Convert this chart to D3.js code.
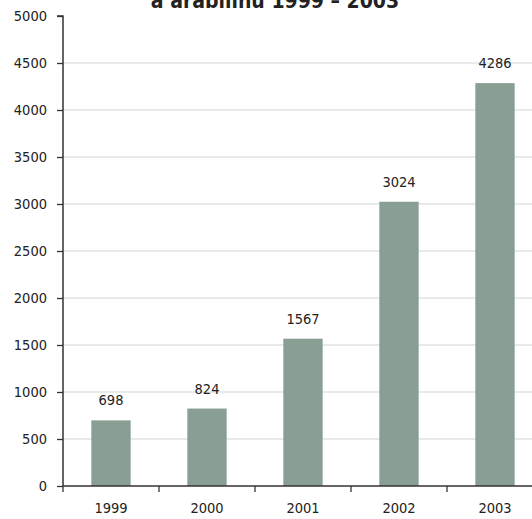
<!DOCTYPE html>
<html>
<head>
<meta charset="utf-8">
<script src="https://d3js.org/d3.v7.min.js"></script>
<style>
body { margin: 0; background: #fff; }
text { font-family: "DejaVu Sans Condensed", "Liberation Sans Narrow", sans-serif; }
</style>
</head>
<body>
<div id="chart"></div>
<script>
// chart data
const years = ["1999", "2000", "2001", "2002", "2003"];
const values = [698, 824, 1567, 3024, 4286];
const y_ticks = [0, 500, 1000, 1500, 2000, 2500, 3000, 3500, 4000, 4500, 5000];
const title_text = "á árabilinu 1999 – 2003";

const width = 532, height = 519;
const margin = { left: 63, top: 16, bottom: 33 };
const font_size = "14.5px";

const svg = d3.select("#chart").append("svg")
    .attr("width", width)
    .attr("height", height);

const x = d3.scaleBand()
    .domain(years)
    .range([margin.left, margin.left + 96 * years.length])
    .paddingInner(0.59)
    .paddingOuter(0.295);

const y = d3.scaleLinear()
    .domain([0, 5000])
    .range([height - margin.bottom, margin.top]);

// grid lines
svg.append("g")
    .selectAll("line")
    .data(y_ticks.filter(d => d > 0 && d < 5000))
    .enter()
    .append("line")
    .attr("x1", margin.left)
    .attr("x2", width)
    .attr("y1", d => y(d))
    .attr("y2", d => y(d))
    .attr("stroke", "#dfe6e4")
    .attr("stroke-width", 1.5);

// bars
svg.append("g")
    .selectAll("rect")
    .data(years)
    .enter()
    .append("rect")
    .attr("x", d => x(d))
    .attr("width", x.bandwidth())
    .attr("y", (d, i) => y(values[i]))
    .attr("height", (d, i) => y(0) - y(values[i]))
    .attr("fill", "#8a9f94");

// value labels
svg.append("g")
    .selectAll("text")
    .data(years)
    .enter()
    .append("text")
    .attr("x", d => x(d) + x.bandwidth() / 2)
    .attr("y", (d, i) => y(values[i]) - 15)
    .attr("text-anchor", "middle")
    .style("font-size", font_size)
    .style("fill", "#222")
    .text((d, i) => values[i]);

// y axis
const y_axis = svg.append("g")
    .attr("transform", `translate(${margin.left},0)`)
    .call(d3.axisLeft(y).tickValues(y_ticks).tickSize(6).tickPadding(10).tickFormat(d3.format("d")));
y_axis.select(".domain").attr("stroke", "#333").attr("stroke-width", 1.5).attr("d", `M-6,${y(5000)}H0V${y(0)}`);
y_axis.selectAll(".tick line").attr("stroke", "#333").attr("stroke-width", 1.3);
y_axis.selectAll(".tick text").style("font-size", font_size).style("fill", "#222");

// x axis
const x_axis_g = svg.append("g")
    .attr("transform", `translate(0,${y(0)})`);
x_axis_g.append("line")
    .attr("x1", margin.left)
    .attr("x2", width)
    .attr("stroke", "#333")
    .attr("stroke-width", 1.5);
x_axis_g.selectAll(".xtick")
    .data(years)
    .enter()
    .append("line")
    .attr("x1", d => x(d) - x.step() * x.paddingOuter())
    .attr("x2", d => x(d) - x.step() * x.paddingOuter())
    .attr("y1", 0)
    .attr("y2", 6)
    .attr("stroke", "#333")
    .attr("stroke-width", 1.3);
x_axis_g.selectAll(".xlabel")
    .data(years)
    .enter()
    .append("text")
    .attr("x", d => x(d) + x.bandwidth() / 2)
    .attr("y", 27)
    .attr("text-anchor", "middle")
    .style("font-size", font_size)
    .style("fill", "#222")
    .text(d => d);

// title (cut off at the top edge, as in the source)
svg.append("text")
    .attr("x", 275)
    .attr("y", 8)
    .attr("text-anchor", "middle")
    .style("font-size", "21px")
    .style("font-weight", "bold")
    .style("fill", "#222")
    .text(title_text);
</script>
</body>
</html>
